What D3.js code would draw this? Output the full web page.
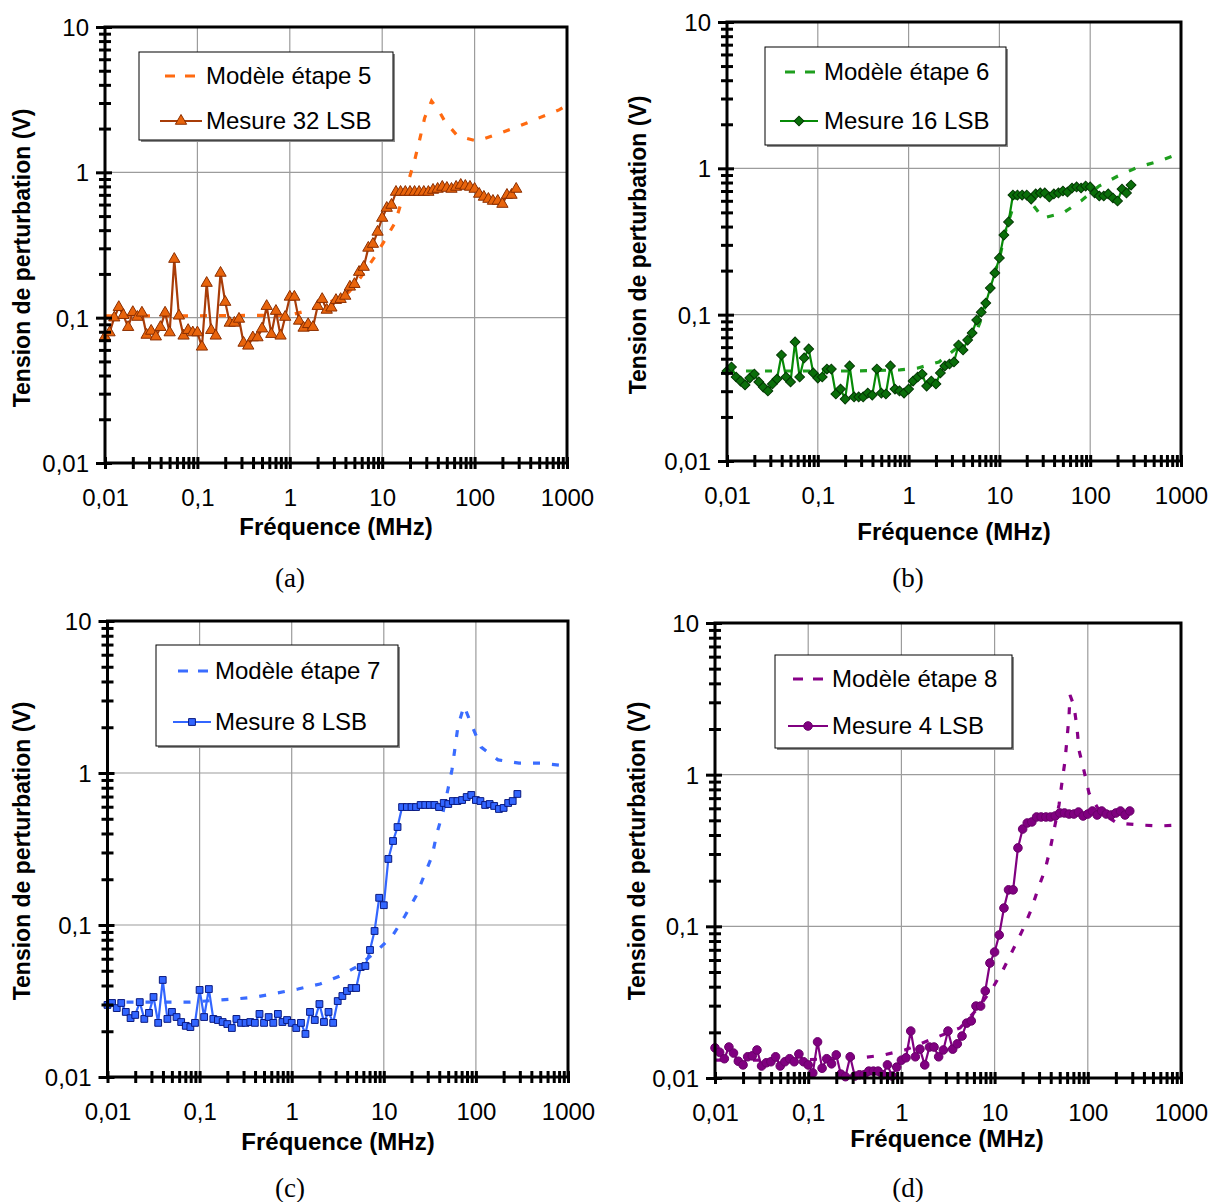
<!DOCTYPE html>
<html><head><meta charset="utf-8">
<script src="https://cdn.jsdelivr.net/npm/d3@7/dist/d3.min.js"></script>
<style>body{margin:0;background:#fff}svg{display:block}</style>
</head><body>
<script>
// ---------------- DATA ----------------
const FREQ = [0.01,0.0112,0.0126,0.0141,0.0158,0.0178,0.02,0.0224,0.0251,0.0282,0.0316,0.0355,0.0398,0.0447,0.0501,0.0562,0.0631,0.0708,0.0794,0.0891,
0.1,0.112,0.126,0.141,0.158,0.178,0.2,0.224,0.251,0.282,0.316,0.355,0.398,0.447,0.501,0.562,0.631,0.708,0.794,0.891,
1,1.12,1.26,1.41,1.58,1.78,2,2.24,2.51,2.82,3.16,3.55,3.98,4.47,5.01,5.62,6.31,7.08,7.94,8.91,
10,11.2,12.6,14.1,15.8,17.8,20,22.4,25.1,28.2,31.6,35.5,39.8,44.7,50.1,56.2,63.1,70.8,79.4,89.1,
100,112,126,141,158,178,200,224,251,282];

const MEAS_A = [0.074,0.079,0.100,0.118,0.104,0.086,0.109,0.101,0.108,0.076,
0.081,0.074,0.086,0.108,0.079,0.253,0.103,0.075,0.082,0.079,
0.079,0.063,0.173,0.082,0.075,0.203,0.128,0.092,0.092,0.098,
0.067,0.064,0.073,0.073,0.084,0.120,0.077,0.111,0.075,0.101,
0.139,0.139,0.095,0.085,0.090,0.086,0.120,0.134,0.113,0.117,
0.132,0.134,0.141,0.163,0.170,0.206,0.223,0.302,0.321,0.389,
0.485,0.568,0.596,0.732,0.732,0.732,0.732,0.732,0.732,0.732,
0.732,0.756,0.768,0.793,0.780,0.768,0.793,0.818,0.805,0.793,
0.768,0.710,0.677,0.655,0.635,0.635,0.605,0.698,0.698,0.768];

const MEAS_B = [0.0412,0.0439,0.0375,0.0352,0.0331,0.0369,0.0393,0.0347,0.0320,0.0301,
0.0336,0.0363,0.0530,0.0375,0.0347,0.0651,0.0375,0.0506,0.0583,0.0400,
0.0369,0.0375,0.0425,0.0425,0.0287,0.0310,0.0265,0.0446,0.0274,0.0274,
0.0274,0.0291,0.0282,0.0425,0.0291,0.0287,0.0446,0.0310,0.0301,0.0291,
0.0310,0.0352,0.0375,0.0393,0.0325,0.0352,0.0336,0.0400,0.0446,0.0460,
0.0475,0.0620,0.0574,0.0671,0.0750,0.0919,0.104,0.120,0.152,0.193,
0.244,0.350,0.430,0.657,0.657,0.657,0.657,0.617,0.668,0.679,
0.679,0.637,0.668,0.679,0.700,0.689,0.734,0.746,0.734,0.757,
0.746,0.679,0.647,0.647,0.668,0.627,0.598,0.722,0.679,0.769];

const MEAS_C = [0.0298,0.0307,0.0284,0.0307,0.0268,0.0244,0.0256,0.0311,0.0241,0.0264,
0.0336,0.0227,0.0435,0.0241,0.0268,0.0248,0.0230,0.0217,0.0213,0.0227,
0.0374,0.0248,0.0379,0.0241,0.0237,0.0230,0.0223,0.0210,0.0241,0.0227,
0.0227,0.0230,0.0227,0.0260,0.0227,0.0248,0.0227,0.0260,0.0230,0.0237,
0.0227,0.0210,0.0227,0.0192,0.0268,0.0237,0.0302,0.0230,0.0268,0.0227,
0.0316,0.0341,0.0368,0.0385,0.0385,0.0529,0.0537,0.0685,0.0913,0.151,
0.135,0.272,0.357,0.441,0.597,0.597,0.597,0.597,0.616,0.616,
0.616,0.616,0.597,0.635,0.625,0.654,0.654,0.664,0.695,0.717,
0.664,0.654,0.616,0.625,0.607,0.580,0.589,0.635,0.654,0.728];

const MEAS_D = [0.0158,0.0148,0.0134,0.0160,0.0146,0.0129,0.0122,0.0138,0.0140,0.0153,
0.0120,0.0126,0.0128,0.0138,0.0120,0.0128,0.0134,0.0128,0.0144,0.0128,
0.0122,0.0108,0.0173,0.0116,0.0134,0.0124,0.0142,0.0106,0.0102,0.0138,
0.0103,0.0105,0.0105,0.0111,0.0111,0.0111,0.0105,0.0122,0.0103,0.0118,
0.0131,0.0136,0.0204,0.0138,0.0155,0.0122,0.0160,0.0160,0.0138,0.0153,
0.0204,0.0155,0.0168,0.0189,0.0230,0.0238,0.0298,0.0298,0.0375,0.0573,
0.0677,0.0877,0.132,0.174,0.174,0.329,0.438,0.480,0.488,0.526,
0.526,0.526,0.526,0.534,0.559,0.559,0.550,0.550,0.567,0.534,
0.550,0.576,0.542,0.576,0.550,0.542,0.559,0.576,0.542,0.576];

const MODEL_A_F = [0.01,0.0845,1,1.66,2.59,4.37,5.88,8.12,10.7,13.7,16.3,19.4,22.5,25.4,28.8,34.2,41.8,47.3,65.3,107,180,304,499,820,1000];
const MODEL_A_V = [0.103,0.103,0.104,0.113,0.126,0.150,0.190,0.257,0.342,0.448,0.635,0.886,1.22,1.67,2.37,3.10,2.60,2.26,1.78,1.64,1.84,2.08,2.37,2.69,2.90];

const MODEL_B_F = [0.01,0.226,0.804,1.27,2.16,3.50,5.52,6.43,7.88,10.2,11.8,13.8,16.0,21.7,30.2,50.1,79.2,125,202,336,573,1000];
const MODEL_B_V = [0.0412,0.0412,0.0419,0.0432,0.0475,0.0601,0.075,0.0964,0.147,0.256,0.379,0.519,0.746,0.598,0.458,0.495,0.598,0.757,0.886,1.02,1.12,1.27];

const MODEL_C_F = [0.01,0.0787,0.242,0.410,0.692,1.17,2.03,3.35,5.51,8.65,12.6,17.0,22.4,27.3,33.4,37.8,44.0,49.8,55.0,59.3,63.9,74.3,90.7,114,174,294,497,1000];
const MODEL_C_V = [0.0311,0.0311,0.0326,0.0336,0.0357,0.0379,0.0409,0.0462,0.0546,0.0685,0.086,0.115,0.155,0.210,0.284,0.403,0.554,0.785,1.05,1.46,2.04,2.76,2.04,1.48,1.22,1.16,1.16,1.11];

const MODEL_D_F = [0.01,0.0817,0.236,0.378,0.651,1.09,4.26,6.64,9.38,12.3,15.7,20.2,24.6,29.2,34.7,39.3,44.5,49.1,52.9,56.9,59.8,62.8,64.4,71.1,76.6,80.5,91.1,103,135,206,354,595,1000];
const MODEL_D_V = [0.0131,0.0131,0.0136,0.0136,0.0142,0.0153,0.0214,0.0289,0.0386,0.0515,0.0698,0.0960,0.128,0.176,0.235,0.319,0.466,0.631,0.894,1.23,1.72,2.40,3.35,2.84,2.03,1.45,1.06,0.757,0.567,0.480,0.466,0.459,0.466];

const X_TICKS = [0.01,0.1,1,10,100,1000];
const X_TICK_LABELS = ["0,01","0,1","1","10","100","1000"];
const Y_TICKS = [0.01,0.1,1,10];
const Y_TICK_LABELS = ["0,01","0,1","1","10"];
const MINOR_MULT = [2,3,4,5,6,7,8,9];
const X_TITLE = "Fréquence (MHz)";
const Y_TITLE = "Tension de perturbation (V)";
const LEGEND_MODEL = ["Modèle étape 5","Modèle étape 6","Modèle étape 7","Modèle étape 8"];
const LEGEND_MEAS = ["Mesure 32 LSB","Mesure 16 LSB","Mesure 8 LSB","Mesure 4 LSB"];
const CAPTIONS = ["(a)","(b)","(c)","(d)"];

// ---------------- LAYOUT / STYLE ----------------
const PANELS = [
 {l:105,r:567,t:27,b:463, meas:MEAS_A, mf:MODEL_A_F, mv:MODEL_A_V,
  modelColor:"#FF6A10", lineColor:"#A83C08", mFill:"#E8640C", mStroke:"#8B2E00", marker:"triangle",
  leg:{x:139,y:52,w:254,h:88,r1:76,r2:121,s1:160,s2:202,tx:206}, cap:[290,578], xt:[336,527], yt:[22,258]},
 {l:727,r:1181,t:22,b:461, meas:MEAS_B, mf:MODEL_B_F, mv:MODEL_B_V,
  modelColor:"#1E9E1E", lineColor:"#078A07", mFill:"#0A6E0A", mStroke:"#033803", marker:"diamond",
  leg:{x:765,y:47,w:241,h:98,r1:72,r2:121,s1:780,s2:818,tx:824}, cap:[908,578], xt:[954,532], yt:[638,245]},
 {l:107.5,r:568,t:621,b:1077, meas:MEAS_C, mf:MODEL_C_F, mv:MODEL_C_V,
  modelColor:"#3A6CFF", lineColor:"#3366FF", mFill:"#3366FF", mStroke:"#0A1A80", marker:"square",
  leg:{x:156,y:645,w:242,h:101,r1:671,r2:722,s1:173,s2:211,tx:215}, cap:[290,1188], xt:[338,1142], yt:[22,851]},
 {l:715,r:1181,t:623,b:1078, meas:MEAS_D, mf:MODEL_D_F, mv:MODEL_D_V,
  modelColor:"#880088", lineColor:"#800080", mFill:"#800080", mStroke:"#6A006A", marker:"circle",
  leg:{x:775,y:655,w:237,h:93,r1:679,r2:726,s1:788,s2:828,tx:832}, cap:[908,1188], xt:[947,1139], yt:[637,851]}
];

const SANS = "'Liberation Sans', Arial, sans-serif";
const SERIF = "'Liberation Serif', 'Times New Roman', serif";

const svg = d3.select("body").append("svg").attr("width",1212).attr("height",1202)
  .style("background","#fff");

function markerPath(kind){
  if(kind==="triangle") return d3.symbol().type(d3.symbolTriangle).size(55)();
  if(kind==="diamond") return d3.symbol().type(d3.symbolSquare).size(48)();
  if(kind==="square") return d3.symbol().type(d3.symbolSquare).size(46)();
  return d3.symbol().type(d3.symbolCircle).size(58)();
}
function markerRot(kind){ return kind==="diamond" ? " rotate(45)" : ""; }

PANELS.forEach((p,pi)=>{
  const x = d3.scaleLog().domain([0.01,1000]).range([p.l,p.r]);
  const y = d3.scaleLog().domain([0.01,10]).range([p.b,p.t]);
  const g = svg.append("g");
  const clipId = "clip"+pi;
  g.append("clipPath").attr("id",clipId).append("rect")
    .attr("x",p.l).attr("y",p.t).attr("width",p.r-p.l).attr("height",p.b-p.t);

  // grid
  const gv = [0.1,1,10,100];
  g.append("g").selectAll("line").data(gv).join("line")
    .attr("x1",d=>x(d)).attr("x2",d=>x(d)).attr("y1",p.t).attr("y2",p.b)
    .attr("stroke","#9c9c9c").attr("stroke-width",1.2);
  g.append("g").selectAll("line").data([0.1,1]).join("line")
    .attr("x1",p.l).attr("x2",p.r).attr("y1",d=>y(d)).attr("y2",d=>y(d))
    .attr("stroke","#9c9c9c").attr("stroke-width",1.2);

  const plot = g.append("g").attr("clip-path",`url(#${clipId})`);
  // model (dashed)
  const modelPts = p.mf.map((f,i)=>[f,p.mv[i]]);
  plot.append("path").datum(modelPts)
    .attr("d", d3.line().x(d=>x(d[0])).y(d=>y(d[1])))
    .attr("fill","none").attr("stroke",p.modelColor).attr("stroke-width",3.2)
    .attr("stroke-dasharray","7,12");
  // measurement
  const measPts = p.meas.map((v,i)=>[FREQ[i],v]);
  plot.append("path").datum(measPts)
    .attr("d", d3.line().x(d=>x(d[0])).y(d=>y(d[1])))
    .attr("fill","none").attr("stroke",p.lineColor).attr("stroke-width",2.2)
    .attr("stroke-linejoin","round");
  const mp = markerPath(p.marker);
  g.append("g").selectAll("path").data(measPts).join("path")
    .attr("d",mp)
    .attr("transform",d=>`translate(${x(d[0])},${y(d[1])})`+markerRot(p.marker))
    .attr("fill",p.mFill).attr("stroke",p.mStroke).attr("stroke-width",1);

  // frame
  g.append("rect").attr("x",p.l).attr("y",p.t).attr("width",p.r-p.l).attr("height",p.b-p.t)
    .attr("fill","none").attr("stroke","#000").attr("stroke-width",3);

  // ticks (crossing) via axes
  const xMinor = [];
  [0.01,0.1,1,10,100].forEach(dec=>MINOR_MULT.forEach(m=>xMinor.push(dec*m)));
  const yMinor = [];
  [0.01,0.1,1].forEach(dec=>MINOR_MULT.forEach(m=>yMinor.push(dec*m)));

  function styleTicks(sel){
    sel.select(".domain").remove();
    sel.selectAll("line").attr("stroke","#000").attr("stroke-width",3);
    sel.selectAll("text").remove();
  }
  const addTicks = (axisFn, scale, vals, size, horiz) => {
    const a = g.append("g").attr("transform", horiz ? `translate(0,${p.b})` : `translate(${p.l},0)`)
      .call(axisFn(scale).tickValues(vals).tickSize(size).tickSizeOuter(0));
    styleTicks(a);
  };
  addTicks(d3.axisBottom, x, xMinor.concat(X_TICKS), 6, true);
  addTicks(d3.axisTop, x, xMinor.concat(X_TICKS), 6, true);
  addTicks(d3.axisLeft, y, yMinor, 6, false);
  addTicks(d3.axisRight, y, yMinor, 6, false);
  addTicks(d3.axisLeft, y, Y_TICKS, 9, false);
  addTicks(d3.axisRight, y, Y_TICKS, 7, false);

  // tick labels via axes
  const xLab = g.append("g").attr("transform",`translate(0,${p.b})`)
    .call(d3.axisBottom(x).tickValues(X_TICKS).tickSize(0)
      .tickFormat((d,i)=>X_TICK_LABELS[i]));
  xLab.select(".domain").remove();
  xLab.selectAll("text").attr("y",35).attr("dy","0.35em")
    .style("font-family",SANS).style("font-size","24px").attr("fill","#000");
  const yLab = g.append("g").attr("transform",`translate(${p.l},0)`)
    .call(d3.axisLeft(y).tickValues(Y_TICKS).tickSize(0)
      .tickFormat((d,i)=>Y_TICK_LABELS[i]));
  yLab.select(".domain").remove();
  yLab.selectAll("text").attr("x",-16).attr("dy","0.35em")
    .style("font-family",SANS).style("font-size","24px").attr("fill","#000");

  // axis titles
  g.append("text").attr("x",p.xt[0]).attr("y",p.xt[1]).attr("dy","0.35em")
    .attr("text-anchor","middle").style("font-family",SANS).style("font-size","24px")
    .style("font-weight","bold").text(X_TITLE);
  g.append("text").attr("transform",`translate(${p.yt[0]},${p.yt[1]}) rotate(-90)`)
    .attr("dy","0.35em").attr("text-anchor","middle").style("font-family",SANS)
    .style("font-size","23px").style("font-weight","bold").text(Y_TITLE);

  // caption
  g.append("text").attr("x",p.cap[0]).attr("y",p.cap[1]).attr("dy","0.35em")
    .attr("text-anchor","middle").style("font-family",SERIF).style("font-size","27px")
    .text(CAPTIONS[pi]);

  // legend
  const L = p.leg;
  g.append("rect").attr("x",L.x+2).attr("y",L.y+2).attr("width",L.w).attr("height",L.h)
    .attr("fill","#8a8a8a");
  g.append("rect").attr("x",L.x).attr("y",L.y).attr("width",L.w).attr("height",L.h)
    .attr("fill","#fff").attr("stroke","#000").attr("stroke-width",1);
  g.append("line").attr("x1",L.s1+5).attr("x2",L.s2-3).attr("y1",L.r1).attr("y2",L.r1)
    .attr("stroke",p.modelColor).attr("stroke-width",3.2).attr("stroke-dasharray","10,10");
  g.append("line").attr("x1",L.s1).attr("x2",L.s2).attr("y1",L.r2).attr("y2",L.r2)
    .attr("stroke",p.lineColor).attr("stroke-width",2.2);
  g.append("path").attr("d",mp)
    .attr("transform",`translate(${(L.s1+L.s2)/2},${L.r2})`+markerRot(p.marker))
    .attr("fill",p.mFill).attr("stroke",p.mStroke).attr("stroke-width",1);
  [[LEGEND_MODEL[pi],L.r1],[LEGEND_MEAS[pi],L.r2]].forEach(([t,yy])=>{
    g.append("text").attr("x",L.tx).attr("y",yy).attr("dy","0.35em")
      .style("font-family",SANS).style("font-size","24px").text(t);
  });
});
</script>
</body></html>
